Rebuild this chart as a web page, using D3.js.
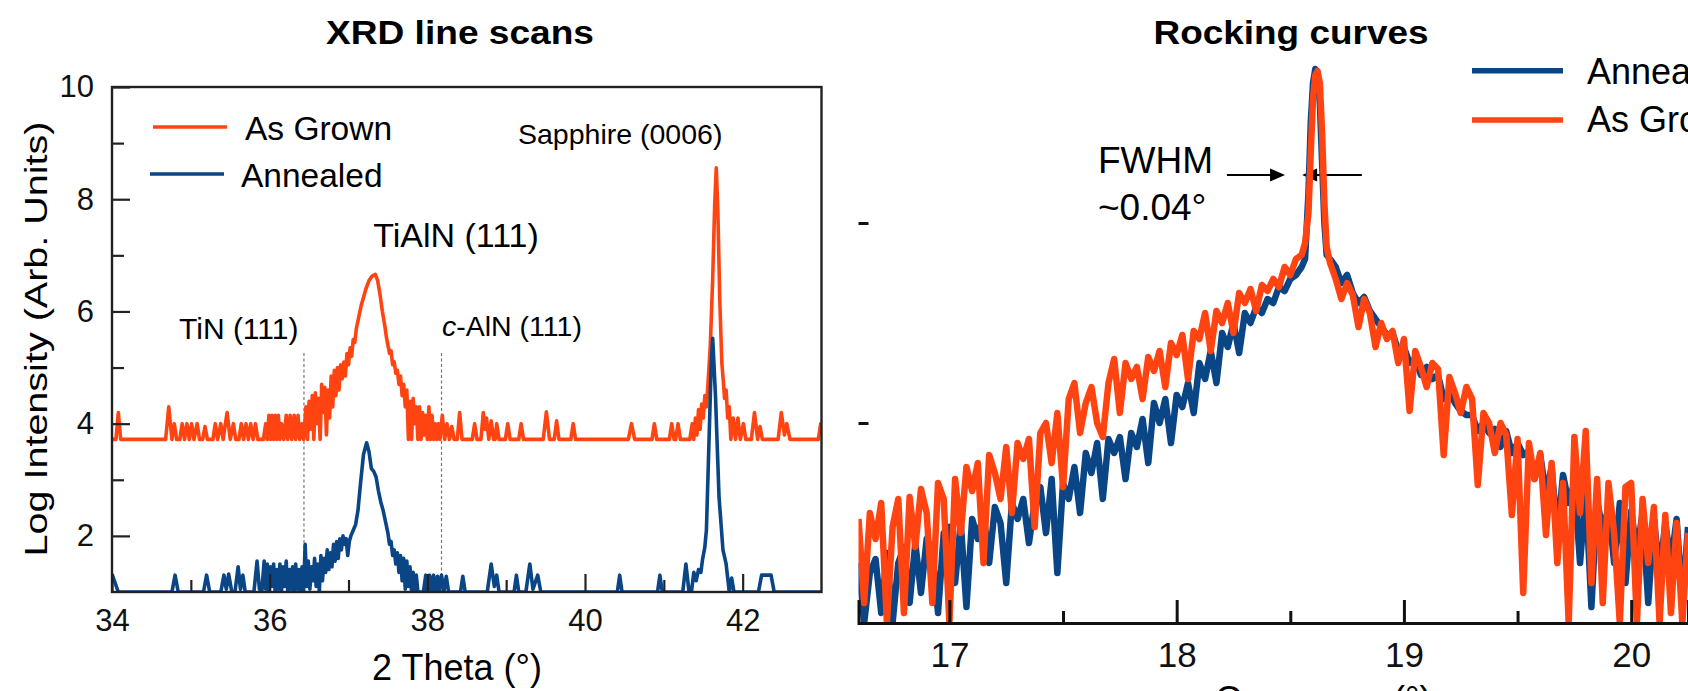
<!DOCTYPE html>
<html>
<head>
<meta charset="utf-8">
<script src="https://cdn.jsdelivr.net/npm/d3@7/dist/d3.min.js"></script>
<style>
    body { margin: 0; background: #fff; }
    svg { display: block; font-family: "Liberation Sans", Arial, Helvetica, sans-serif; }
</style>
</head>
<body>
<script>
//---------------- XRD line scans: [2 theta, log intensity] vertices ----------------
var xrdGrown = [
    [34.00,3.72],[34.05,3.72],[34.08,4.20],[34.11,3.72],
    [34.68,3.72],[34.72,4.30],[34.76,3.72],[34.79,4.00],[34.82,3.72],[34.86,3.72],[34.89,4.00],[34.92,3.72],[34.95,4.00],[34.98,3.72],
    [35.01,4.00],[35.04,3.72],[35.08,4.00],[35.11,3.72],[35.15,3.72],[35.18,3.95],[35.21,3.72],
    [35.28,3.72],[35.31,4.00],[35.34,3.72],[35.38,4.00],[35.41,3.72],[35.46,4.20],[35.50,3.72],[35.54,4.00],[35.57,3.72],[35.61,3.72],
    [35.64,4.00],[35.67,3.72],[35.70,4.00],[35.73,3.72],[35.76,4.00],[35.79,3.72],[35.82,4.00],[35.85,3.72],[35.92,3.72],
    [35.95,4.00],[35.97,3.72],[35.99,4.15],[36.01,3.72],[36.03,4.15],[36.05,3.72],[36.07,4.15],[36.09,3.72],[36.11,4.15],[36.13,3.72],
    [36.15,4.00],[36.18,3.72],[36.21,4.15],[36.23,3.72],[36.26,4.15],[36.28,3.72],[36.31,4.15],[36.33,3.72],[36.36,4.15],[36.38,3.72],
    [36.41,4.00],[36.43,3.72],
    [36.46,4.30],[36.48,3.72],[36.50,4.40],[36.52,3.90],[36.54,4.50],[36.56,3.72],[36.58,4.55],[36.60,4.00],[36.62,4.45],[36.64,3.72],
    [36.66,4.70],[36.68,4.20],[36.70,4.65],[36.72,3.80],[36.74,4.60],[36.76,4.10],[36.78,4.85],[36.80,4.30],[36.82,4.95],[36.84,4.50],
    [36.86,5.00],[36.88,4.60],[36.90,5.05],[36.92,4.80],[36.94,5.10],[36.96,4.85],[36.98,5.25],[37.00,5.05],[37.02,5.35],[37.04,5.20],
    [37.06,5.50],[37.08,5.45],[37.10,5.70],[37.13,5.90],[37.16,6.10],[37.19,6.25],[37.22,6.40],[37.26,6.55],[37.30,6.63],[37.34,6.66],
    [37.37,6.55],[37.40,6.30],[37.43,6.00],[37.46,5.75],[37.48,5.55],[37.50,5.40],[37.52,5.25],[37.54,5.30],[37.56,5.05],[37.58,5.10],
    [37.60,4.90],[37.62,4.95],[37.64,4.70],[37.66,4.85],[37.68,4.50],[37.70,4.70],[37.72,4.30],[37.74,4.60],[37.76,3.72],[37.78,4.40],
    [37.80,3.72],[37.82,4.45],[37.84,4.00],[37.86,4.30],[37.88,3.72],[37.90,4.30],[37.92,3.72],[37.94,4.20],[37.96,3.80],[37.98,4.15],
    [38.00,3.72],[38.02,4.30],[38.04,3.72],[38.06,4.15],[38.08,3.72],[38.10,4.00],[38.12,3.72],[38.14,4.00],[38.16,3.72],[38.19,4.15],
    [38.22,3.72],[38.25,4.00],[38.28,3.72],[38.31,3.95],[38.34,3.72],
    [38.38,3.72],[38.41,4.20],[38.44,3.72],[38.57,3.72],[38.60,4.00],[38.63,3.72],[38.68,3.72],[38.71,4.20],[38.73,3.90],[38.75,4.10],
    [38.78,3.72],[38.81,4.05],[38.84,3.72],[38.86,3.72],[38.88,4.00],[38.91,3.72],[38.99,3.72],[39.02,4.00],[39.05,3.72],[39.16,3.72],
    [39.19,4.00],[39.22,3.72],[39.47,3.72],[39.51,4.21],[39.55,3.72],[39.61,3.72],[39.64,4.05],[39.67,3.72],[39.82,3.72],[39.85,4.00],
    [39.88,3.72],[40.55,3.72],[40.59,4.00],[40.63,3.72],[40.85,3.72],[40.88,4.00],[40.91,3.72],[41.07,3.72],[41.10,4.00],[41.13,3.72],
    [41.15,3.72],[41.18,4.00],[41.21,3.72],[41.33,3.72],[41.36,4.00],[41.38,3.72],[41.40,4.10],[41.42,3.80],[41.44,4.25],[41.46,3.90],
    [41.48,4.35],[41.50,4.10],[41.52,4.50],[41.54,4.30],[41.56,4.70],[41.59,5.40],[41.62,6.60],[41.645,7.90],[41.665,8.56],[41.685,7.80],
    [41.71,6.20],[41.735,5.10],[41.755,4.75],[41.77,4.45],[41.79,4.60],[41.81,4.10],[41.83,4.30],[41.85,3.72],[41.88,4.10],[41.91,3.72],
    [41.94,4.10],[41.97,3.72],[42.01,4.00],[42.04,3.72],[42.11,3.72],[42.15,4.20],[42.19,3.72],[42.22,3.95],[42.25,3.72],[42.45,3.72],
    [42.49,4.20],[42.53,3.80],[42.56,4.00],[42.60,3.72],[42.96,3.72],[42.99,4.00],[43.00,3.95]
];

var xrdAnnealed = [
    [34.00,1.32],[34.08,1.00],[34.76,1.00],[34.80,1.30],[34.84,1.00],[35.16,1.00],[35.20,1.30],[35.24,1.00],[35.38,1.00],[35.42,1.30],
    [35.45,1.05],[35.48,1.32],[35.52,1.00],[35.56,1.00],[35.60,1.45],[35.63,1.05],[35.66,1.30],[35.69,1.00],[35.80,1.00],[35.84,1.55],
    [35.87,1.05],[35.90,1.00],[35.93,1.55],[35.95,1.05],[35.97,1.50],[35.99,1.00],[36.01,1.45],[36.03,1.10],[36.05,1.50],[36.07,1.00],
    [36.09,1.40],[36.11,1.05],[36.13,1.50],[36.15,1.00],[36.17,1.45],[36.19,1.10],[36.21,1.55],[36.23,1.00],[36.25,1.40],[36.27,1.05],
    [36.29,1.45],[36.31,1.00],[36.33,1.50],[36.35,1.05],[36.37,1.40],[36.39,1.00],[36.41,1.45],[36.43,1.00],[36.45,1.85],[36.47,1.10],
    [36.49,1.55],[36.51,1.05],[36.53,1.45],[36.55,1.20],[36.57,1.60],[36.59,1.10],[36.61,1.50],[36.63,1.00],[36.65,1.65],[36.67,1.20],
    [36.69,1.60],[36.71,1.35],[36.73,1.75],[36.75,1.40],[36.77,1.70],[36.79,1.45],[36.81,1.85],[36.83,1.55],[36.85,1.90],[36.87,1.60],
    [36.89,1.95],[36.91,1.75],[36.93,2.00],[36.95,1.85],[36.97,1.95],[36.99,1.65],[37.01,1.90],[37.03,2.00],[37.06,2.10],[37.09,2.20],
    [37.12,2.45],[37.15,2.90],[37.19,3.45],[37.23,3.66],[37.26,3.50],[37.29,3.20],[37.32,3.15],[37.35,3.05],[37.38,2.80],[37.41,2.60],
    [37.44,2.45],[37.47,2.25],[37.50,2.05],[37.52,1.85],[37.54,1.90],[37.56,1.65],[37.58,1.75],[37.60,1.50],[37.62,1.70],[37.64,1.35],
    [37.66,1.65],[37.68,1.20],[37.70,1.60],[37.72,1.05],[37.74,1.55],[37.76,1.10],[37.78,1.45],[37.80,1.00],[37.82,1.35],[37.84,1.00],
    [37.86,1.30],[37.88,1.00],[37.95,1.00],[37.98,1.30],[38.00,1.00],[38.03,1.30],[38.05,1.00],[38.08,1.30],[38.10,1.00],[38.13,1.28],
    [38.15,1.00],[38.18,1.30],[38.21,1.00],[38.24,1.28],[38.27,1.00],[38.42,1.00],[38.45,1.28],[38.48,1.00],[38.76,1.00],[38.81,1.50],
    [38.85,1.10],[38.88,1.30],[38.91,1.00],[39.10,1.00],[39.13,1.30],[39.16,1.00],[39.25,1.00],[39.30,1.50],[39.34,1.05],[39.40,1.30],
    [39.44,1.00],[40.41,1.00],[40.44,1.30],[40.47,1.00],[40.92,1.00],[40.95,1.30],[40.98,1.00],[41.24,1.00],[41.28,1.50],[41.32,1.00],
    [41.35,1.00],[41.38,1.35],[41.41,1.20],[41.44,1.40],[41.47,1.35],[41.49,1.57],[41.52,1.80],[41.54,2.10],[41.565,3.30],[41.60,5.00],
    [41.62,5.52],[41.655,4.50],[41.70,2.70],[41.75,1.75],[41.79,1.50],[41.83,1.00],[41.86,1.25],[41.89,1.00],[42.20,1.00],[42.24,1.30],
    [42.36,1.30],[42.40,1.00],[43.00,1.00]
];

var xrdTicks = [34, 36, 38, 40, 42];
var xrdMinorTicks = [35, 37, 39, 41];
var xrdLogTicks = [2, 4, 6, 8, 10];
var xrdLogMinorTicks = [3, 5, 7, 9];
var xrdRefLines = [36.435, 38.18];   // TiN (111) and c-AlN (111) positions
var xrdRefTop = 5.26;

//---------------- Rocking curves: omega (deg) and log intensity ----------------
var rcOmega = [
    16.6,16.625,16.65,16.675,16.7,16.725,16.75,16.775,16.8,16.825,16.85,16.875,16.9,16.925,16.95,16.975,
    17,17.025,17.05,17.075,17.1,17.125,17.15,17.175,17.2,17.225,17.25,17.275,17.3,17.325,17.35,17.375,
    17.4,17.425,17.45,17.475,17.5,17.525,17.55,17.575,17.6,17.625,17.65,17.675,17.7,17.725,17.75,17.775,
    17.8,17.825,17.85,17.875,17.9,17.925,17.95,17.975,18,18.025,18.05,18.075,18.1,18.125,18.15,18.175,
    18.2,18.225,18.25,18.275,18.3,18.325,18.35,18.375,18.4,18.425,18.45,18.475,18.5,18.525,18.55,
    18.565,18.58,18.59,18.6,18.61,18.62,18.63,18.64,18.65,18.66,18.675,
    18.7,18.725,18.75,18.775,18.8,18.825,18.85,18.875,18.9,18.925,18.95,18.975,19,19.025,19.05,19.075,
    19.1,19.125,19.15,19.175,19.2,19.225,19.25,19.275,19.3,19.325,19.35,19.375,19.4,19.425,19.45,19.475,
    19.5,19.525,19.55,19.575,19.6,19.625,19.65,19.675,19.7,19.725,19.75,19.775,19.8,19.825,19.85,19.875,
    19.9,19.925,19.95,19.975,20,20.025,20.05,20.075,20.1,20.125,20.15,20.175,20.2,20.225,20.25
];

var rcGrown = [
    0.52,0.10,0.55,0.42,0.60,0.00,0.48,0.62,0.05,0.63,0.38,0.67,0.55,0.10,0.70,0.62,
    0.00,0.72,0.45,0.78,0.66,0.80,0.30,0.84,0.75,0.62,0.88,0.55,0.90,0.82,0.92,0.48,
    0.95,1.00,0.80,1.05,0.68,1.12,1.20,0.95,1.10,1.18,1.00,0.93,1.20,1.32,1.05,1.30,
    1.22,1.28,1.12,1.33,1.26,1.36,1.18,1.40,1.34,1.44,1.22,1.46,1.42,1.55,1.36,1.56,
    1.50,1.60,1.45,1.65,1.60,1.67,1.56,1.69,1.66,1.72,1.68,1.78,1.74,1.82,1.84,
    1.90,2.05,2.35,2.62,2.74,2.76,2.70,2.45,2.10,1.88,1.80,
    1.72,1.62,1.70,1.64,1.48,1.62,1.55,1.38,1.50,1.42,1.46,1.30,1.42,1.06,1.36,1.28,
    1.18,1.30,1.27,0.84,1.23,1.15,1.05,1.18,1.12,0.69,1.05,1.00,0.85,1.00,0.94,0.54,
    0.92,0.15,0.90,0.72,0.85,0.44,0.80,0.30,0.70,0.00,0.93,0.55,0.96,0.20,0.72,0.10,
    0.70,0.45,0.00,0.68,0.70,0.00,0.62,0.30,0.58,0.00,0.54,0.05,0.50,0.00,0.45
];

var rcAnnealed = [
    0.30,0.00,0.25,0.32,0.05,0.35,0.00,0.30,0.38,0.10,0.40,0.15,0.42,0.36,0.05,0.45,
    0.48,0.20,0.50,0.08,0.52,0.42,0.55,0.30,0.58,0.50,0.20,0.60,0.52,0.62,0.40,0.60,
    0.68,0.45,0.72,0.25,0.70,0.62,0.78,0.55,0.85,0.75,0.90,0.62,0.92,0.85,0.93,0.72,
    0.95,0.88,1.02,0.80,1.10,1.00,1.12,0.90,1.14,1.08,1.20,1.05,1.30,1.22,1.36,1.20,
    1.45,1.38,1.50,1.35,1.55,1.50,1.58,1.55,1.62,1.60,1.68,1.66,1.72,1.74,1.78,
    1.82,2.15,2.50,2.70,2.77,2.74,2.60,2.30,2.00,1.84,1.82,
    1.78,1.70,1.74,1.65,1.60,1.63,1.56,1.52,1.48,1.44,1.45,1.36,1.38,1.30,1.32,1.24,
    1.28,1.22,1.24,1.12,1.15,1.10,1.06,1.04,1.04,0.96,1.00,0.95,0.97,0.88,0.96,0.85,
    0.90,0.84,0.86,0.72,0.84,0.64,0.78,0.44,0.74,0.60,0.70,0.30,0.66,0.08,0.62,0.45,
    0.58,0.30,0.60,0.20,0.56,0.35,0.55,0.10,0.52,0.25,0.50,0.30,0.52,0.10,0.48
];

var rcTicks = [17, 18, 19, 20];
var rcMinorTicks = [17.5, 18.5, 19.5];
var rcLogTicks = [1, 2];
var fwhmArrows = [[18.221, 18.477], [18.815, 18.552]];   // [tail, tip] in omega
var fwhmLevel = 2.24;

var orange = "#ff4412",
    blue = "#0a4586";

window.onload = drawFigure;

function drawFigure(){

    var svg = d3.select("body")
        .append("svg")
        .attr("width", 1688)
        .attr("height", 691);

    svg.append("rect")
        .attr("width", 1688)
        .attr("height", 691)
        .attr("fill", "#fff");

    drawXrd(svg);
    drawRocking(svg);
};

//left panel
function drawXrd(svg){

    var x = d3.scaleLinear().domain([34, 43]).range([112, 821.5]);
    var y = d3.scaleLinear().domain([1, 10]).range([592, 87]);

    svg.append("clipPath")
        .attr("id", "clipXrd")
        .append("rect")
        .attr("x", x(34)).attr("y", y(10))
        .attr("width", x(43) - x(34)).attr("height", y(1) - y(10));

    svg.append("text")
        .attr("x", 460).attr("y", 44)
        .attr("text-anchor", "middle")
        .attr("font-size", 34).attr("font-weight", "bold")
        .attr("textLength", 268).attr("lengthAdjust", "spacingAndGlyphs")
        .text("XRD line scans");

    //dashed reference lines
    svg.selectAll(".refLine")
        .data(xrdRefLines)
        .enter()
        .append("line")
        .attr("class", "refLine")
        .attr("x1", function(d){ return x(d); })
        .attr("x2", function(d){ return x(d); })
        .attr("y1", y(xrdRefTop))
        .attr("y2", y(1))
        .attr("stroke", "#777")
        .attr("stroke-width", 1.2)
        .attr("stroke-dasharray", "3,2.5");

    var line = d3.line()
        .x(function(d){ return x(d[0]); })
        .y(function(d){ return y(d[1]); });

    var plot = svg.append("g").attr("clip-path", "url(#clipXrd)");

    plot.append("path")
        .datum(xrdGrown)
        .attr("d", line)
        .attr("fill", "none")
        .attr("stroke", orange)
        .attr("stroke-width", 3.6)
        .attr("stroke-linejoin", "round");

    plot.append("path")
        .datum(xrdAnnealed)
        .attr("d", line)
        .attr("fill", "none")
        .attr("stroke", blue)
        .attr("stroke-width", 3.6)
        .attr("stroke-linejoin", "round");

    //axes, ticks point inward
    var xMajor = svg.append("g")
        .attr("transform", "translate(0," + y(1) + ")")
        .call(d3.axisBottom(x).tickValues(xrdTicks).tickSize(-18).tickPadding(17));
    var xMinor = svg.append("g")
        .attr("transform", "translate(0," + y(1) + ")")
        .call(d3.axisBottom(x).tickValues(xrdMinorTicks).tickSize(-12).tickFormat(""));
    var yMajor = svg.append("g")
        .attr("transform", "translate(" + x(34) + ",0)")
        .call(d3.axisLeft(y).tickValues(xrdLogTicks).tickSize(-18).tickPadding(18));
    var yMinor = svg.append("g")
        .attr("transform", "translate(" + x(34) + ",0)")
        .call(d3.axisLeft(y).tickValues(xrdLogMinorTicks).tickSize(-12).tickFormat(""));

    [xMajor, xMinor, yMajor, yMinor].forEach(function(ax){
        ax.attr("font-family", null).attr("font-size", 31);
        ax.select(".domain").remove();
        ax.selectAll("line").attr("stroke", "#222").attr("stroke-width", 2.2);
        ax.selectAll("text").attr("fill", "#111");
    });

    svg.append("rect")
        .attr("x", x(34)).attr("y", y(10))
        .attr("width", x(43) - x(34)).attr("height", y(1) - y(10))
        .attr("fill", "none")
        .attr("stroke", "#222")
        .attr("stroke-width", 2.4);

    svg.append("text")
        .attr("transform", "translate(47,339) rotate(-90)")
        .attr("text-anchor", "middle")
        .attr("font-size", 31)
        .attr("textLength", 435).attr("lengthAdjust", "spacingAndGlyphs")
        .text("Log Intensity (Arb. Units)");

    svg.append("text")
        .attr("x", 457).attr("y", 680)
        .attr("text-anchor", "middle")
        .attr("font-size", 36)
        .text("2 Theta (°)");

    //legend
    var legend = [["As Grown", orange, 127, 139.5], ["Annealed", blue, 174, 186.5]];
    legend.forEach(function(d, i){
        svg.append("line")
            .attr("x1", 153 - i * 3).attr("x2", 227 - i * 3)
            .attr("y1", d[2]).attr("y2", d[2])
            .attr("stroke", d[1]).attr("stroke-width", 3.5);
        svg.append("text")
            .attr("x", 245 - i * 4).attr("y", d[3])
            .attr("font-size", 33.5)
            .text(d[0]);
    });

    //peak labels
    svg.append("text").attr("x", 518).attr("y", 144).attr("font-size", 28.5).text("Sapphire (0006)");
    svg.append("text").attr("x", 456).attr("y", 247).attr("text-anchor", "middle").attr("font-size", 34).text("TiAlN (111)");
    svg.append("text").attr("x", 179).attr("y", 339).attr("font-size", 30).text("TiN (111)");
    var cAln = svg.append("text").attr("x", 442).attr("y", 336).attr("font-size", 28.5);
    cAln.append("tspan").attr("font-style", "italic").text("c");
    cAln.append("tspan").text("-AlN (111)");
};

//right panel
function drawRocking(svg){

    var x = d3.scaleLinear().domain([16.6, 20.25]).range([858.5, 1688]);
    var y = d3.scaleLinear().domain([0, 3]).range([623, 23]);

    svg.append("clipPath")
        .attr("id", "clipRc")
        .append("rect")
        .attr("x", x(16.6)).attr("y", 0)
        .attr("width", x(20.25) - x(16.6)).attr("height", y(0) + 2);

    svg.append("text")
        .attr("x", 1291).attr("y", 44)
        .attr("text-anchor", "middle")
        .attr("font-size", 34).attr("font-weight", "bold")
        .attr("textLength", 275).attr("lengthAdjust", "spacingAndGlyphs")
        .text("Rocking curves");

    //FWHM arrows
    fwhmArrows.forEach(function(a){
        var tail = x(a[0]), tip = x(a[1]), yy = y(fwhmLevel);
        var dir = tip > tail ? 1 : -1;
        svg.append("line")
            .attr("x1", tail).attr("x2", tip - dir * 10)
            .attr("y1", yy).attr("y2", yy)
            .attr("stroke", "#000").attr("stroke-width", 2);
        svg.append("path")
            .attr("d", "M" + tip + "," + yy + "L" + (tip - dir * 15) + "," + (yy - 6.5) + "L" + (tip - dir * 15) + "," + (yy + 6.5) + "Z")
            .attr("fill", "#000");
    });

    svg.append("text").attr("x", 1098).attr("y", 173).attr("font-size", 37).text("FWHM");
    svg.append("text").attr("x", 1098).attr("y", 220).attr("font-size", 37).text("~0.04°");

    var line = d3.line()
        .x(function(d){ return x(d[0]); })
        .y(function(d){ return y(d[1]); });

    var annealed = rcOmega.map(function(w, i){ return [w, rcAnnealed[i]]; });
    var grown = rcOmega.map(function(w, i){ return [w, rcGrown[i]]; });

    var plot = svg.append("g").attr("clip-path", "url(#clipRc)");

    plot.append("path")
        .datum(annealed)
        .attr("d", line)
        .attr("fill", "none")
        .attr("stroke", blue)
        .attr("stroke-width", 6.5)
        .attr("stroke-linejoin", "round");

    plot.append("path")
        .datum(grown)
        .attr("d", line)
        .attr("fill", "none")
        .attr("stroke", orange)
        .attr("stroke-width", 6.5)
        .attr("stroke-linejoin", "round");

    //axes
    var xMajor = svg.append("g")
        .attr("transform", "translate(0," + y(0) + ")")
        .call(d3.axisBottom(x).tickValues(rcTicks).tickSize(-23).tickPadding(19).tickFormat(d3.format("d")));
    var xMinor = svg.append("g")
        .attr("transform", "translate(0," + y(0) + ")")
        .call(d3.axisBottom(x).tickValues(rcMinorTicks).tickSize(-12).tickFormat(""));
    var yTicks = svg.append("g")
        .attr("transform", "translate(" + x(16.6) + ",0)")
        .call(d3.axisLeft(y).tickValues(rcLogTicks).tickSize(-10).tickFormat(""));

    [xMajor, xMinor, yTicks].forEach(function(ax){
        ax.attr("font-family", null).attr("font-size", 35);
        ax.selectAll("line").attr("stroke", "#111").attr("stroke-width", 3);
        ax.selectAll("text").attr("fill", "#111");
    });
    xMinor.select(".domain").remove();
    yTicks.select(".domain").remove();
    xMajor.select(".domain").attr("stroke", "#111").attr("stroke-width", 3);

    svg.append("text")
        .attr("x", 1215).attr("y", 712)
        .attr("font-size", 36)
        .attr("word-spacing", 50)
        .text("Omega (°)");

    //legend, runs past the right edge as in the source figure
    var legend = [["Annealed", blue, 70.7, 83.5], ["As Grown", orange, 120, 131.5]];
    legend.forEach(function(d){
        svg.append("line")
            .attr("x1", 1472).attr("x2", 1563)
            .attr("y1", d[2]).attr("y2", d[2])
            .attr("stroke", d[1]).attr("stroke-width", 5.5);
        svg.append("text")
            .attr("x", 1587).attr("y", d[3])
            .attr("font-size", 36)
            .text(d[0]);
    });
};
</script>
</body>
</html>
